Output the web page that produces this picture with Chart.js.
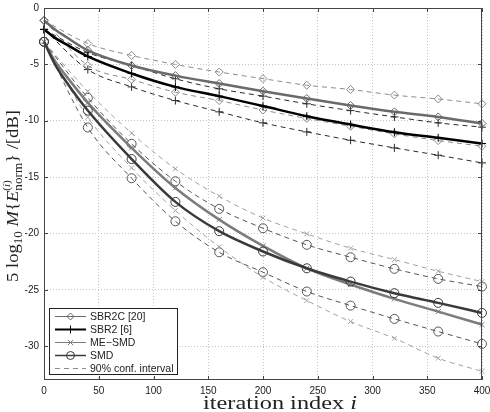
<!DOCTYPE html>
<html>
<head>
<meta charset="utf-8">
<script src="https://cdn.jsdelivr.net/npm/chart.js@4.4.0/dist/chart.umd.min.js"></script>
<style>
  html, body { margin: 0; padding: 0; background: #fff; }
  #wrap { width: 490px; height: 412px; }
</style>
</head>
<body>
<div id="wrap"><canvas id="c" width="490" height="412"></canvas></div>
<script>
/* Convergence curves – mean and 90% confidence bounds per algorithm */

// iterations where markers sit (every 40) and where the mean curves were read
const markIters = [0, 40, 80, 120, 160, 200, 240, 280, 320, 360, 400];
const meanIters = [0, 10, 20, 40, 80, 120, 160, 200, 240, 280, 320, 360, 400];

const xTicks = [0, 50, 100, 150, 200, 250, 300, 350, 400];
const yTicks = [0, -5, -10, -15, -20, -25, -30];

const seriesNames = ['SBR2C [20]', 'SBR2 [6]', 'ME\u2212SMD', 'SMD'];
const confName = '90% conf. interval';

// SBR2C [20]
const sbr2cMean  = [-1.1, -1.9, -2.55, -3.75, -5.1, -6.0, -6.7, -7.38, -8.03, -8.65, -9.21, -9.66, -10.25];
const sbr2cUpper = [-1.1, -3.15, -4.21, -5.01, -5.68, -6.27, -6.85, -7.23, -7.73, -8.07, -8.5];
const sbr2cLower = [-1.1, -5.1, -6.34, -7.47, -8.21, -9.05, -9.8, -10.49, -11.17, -11.76, -12.26];
// SBR2 [6]
const sbr2Mean  = [-1.9, -2.65, -3.2, -4.3, -5.81, -7.0, -7.82, -8.7, -9.6, -10.34, -11.02, -11.52, -12.02];
const sbr2Upper = [-1.9, -3.95, -5.1, -6.28, -7.17, -7.82, -8.5, -9.1, -9.66, -10.19, -10.57];
const sbr2Lower = [-1.9, -5.46, -7.0, -8.21, -9.21, -10.19, -10.99, -11.73, -12.41, -13.06, -13.74];
// ME-SMD
const meSmdMean  = [-3, -4.7, -6.0, -8.4, -12.4, -15.96, -18.77, -21.1, -23.09, -24.53, -25.8, -26.93, -28.08];
const meSmdUpper = [-3, -7.4, -11.1, -14.27, -16.7, -18.63, -20.04, -21.31, -22.32, -23.35, -24.27];
const meSmdLower = [-3, -9.7, -14.18, -17.97, -21.19, -23.88, -25.95, -27.82, -29.3, -31.07, -32.23];
// SMD
const smdMean  = [-3, -5.0, -6.5, -9.1, -13.4, -17.2, -19.8, -21.6, -23.09, -24.27, -25.3, -26.16, -27.05];
const smdUpper = [-3, -7.97, -12.05, -15.37, -17.82, -19.54, -21.01, -22.11, -23.14, -24.03, -24.71];
const smdLower = [-3, -10.6, -15.1, -18.92, -21.67, -23.44, -25.15, -26.4, -27.58, -28.7, -29.8];

// styles
const C_SBR2C = '#6a6a6a', C_SBR2 = '#000000', C_ME = '#7c7c7c', C_SMD = '#3a3a3a';
const D_SBR2C = '#8c8c8c', D_SBR2 = '#2a2a2a', D_ME = '#a2a2a2', D_SMD = '#555555';
const DASH = [5, 4];

const pts = (xs, ys) => xs.map((x, i) => ({ x, y: ys[i] }));

function mk(label, xs, ys, style, color, width, dash, radius) {
  return {
    label,
    data: pts(xs, ys),
    borderColor: color,
    borderWidth: width,
    borderDash: dash,
    pointStyle: style,
    pointBorderColor: color,
    pointBackgroundColor: 'rgba(0,0,0,0)',
    pointBorderWidth: 1,
    pointRadius: c => (c.raw && c.raw.x % 40 === 0 ? radius : 0),
    pointHoverRadius: 0,
    cubicInterpolationMode: 'monotone',
    fill: false,
    clip: false
  };
}

const datasets = [
  // means first so they sit on top
  mk(seriesNames[1], meanIters, sbr2Mean, 'cross', C_SBR2, 2.5, [], 4),
  mk(seriesNames[0], meanIters, sbr2cMean, 'rectRot', C_SBR2C, 2.5, [], 4),
  mk(seriesNames[3], meanIters, smdMean, 'circle', C_SMD, 2.5, [], 4.5),
  mk(seriesNames[2], meanIters, meSmdMean, 'crossRot', C_ME, 2.5, [], 3.5),
  // confidence bounds
  mk(confName, markIters, sbr2cUpper, 'rectRot', D_SBR2C, 1, DASH, 4),
  mk(confName, markIters, sbr2cLower, 'rectRot', D_SBR2C, 1, DASH, 4),
  mk(confName, markIters, sbr2Upper, 'cross', D_SBR2, 1, DASH, 4),
  mk(confName, markIters, sbr2Lower, 'cross', D_SBR2, 1, DASH, 4),
  mk(confName, markIters, meSmdUpper, 'crossRot', D_ME, 1, DASH, 3.5),
  mk(confName, markIters, meSmdLower, 'crossRot', D_ME, 1, DASH, 3.5),
  mk(confName, markIters, smdUpper, 'circle', D_SMD, 1, DASH, 4.5),
  mk(confName, markIters, smdLower, 'circle', D_SMD, 1, DASH, 4.5)
];

// helper: small hollow marker for the legend
function marker(ctx, style, x, y, r) {
  ctx.beginPath();
  if (style === 'circle') {
    ctx.arc(x, y, r, 0, Math.PI * 2);
  } else if (style === 'rectRot') {
    ctx.moveTo(x, y - r); ctx.lineTo(x + r, y); ctx.lineTo(x, y + r); ctx.lineTo(x - r, y); ctx.closePath();
  } else if (style === 'cross') {
    ctx.moveTo(x - r, y); ctx.lineTo(x + r, y); ctx.moveTo(x, y - r); ctx.lineTo(x, y + r);
  } else if (style === 'crossRot') {
    const d = r * 0.75;
    ctx.moveTo(x - d, y - d); ctx.lineTo(x + d, y + d); ctx.moveTo(x + d, y - d); ctx.lineTo(x - d, y + d);
  }
  ctx.stroke();
}

// helper: draw a row of text runs (sub/superscripts), centred at 0 and
// stretched along the baseline to the given width (TeX fonts run wide)
function drawRuns(ctx, runs, target) {
  const fam = '"Liberation Serif", "Times New Roman", serif';
  const pass = (draw, off) => {
    let x = 0, mark = 0, maxX = 0;
    for (const r of runs) {
      if (r.mark) { mark = x; continue; }
      if (r.back) { maxX = x; x = mark; continue; }
      if (r.end) { x = Math.max(x, maxX); continue; }
      ctx.font = (r.it ? 'italic ' : '') + r.s + 'px ' + fam;
      if (draw) ctx.fillText(r.t, x + off, r.dy || 0);
      x += ctx.measureText(r.t).width;
    }
    return x;
  };
  const w = pass(false, 0);
  ctx.scale(target / w, 1);
  pass(true, -w / 2);
}

const TS = 17;
const yTitle = [
  { t: '5 log', s: TS }, { t: '10', s: 12, dy: 4 }, { t: ' ', s: TS },
  { t: 'M', s: TS, it: true }, { t: '{', s: TS }, { t: 'E', s: TS, it: true },
  { mark: true },
  { t: '(', s: 10, dy: -8 }, { t: 'i', s: 10, dy: -8, it: true }, { t: ')', s: 10, dy: -8 },
  { back: true },
  { t: 'norm', s: 12, dy: 4 },
  { end: true },
  { t: '}', s: TS }, { t: ' /[dB]', s: TS }
];
const xTitle = [{ t: 'iteration index ', s: 18 }, { t: 'i', s: 18, it: true }];

const decorPlugin = {
  id: 'decor',
  afterDatasetsDraw(chart) {
    const { ctx, chartArea: a, scales: { x, y } } = chart;
    ctx.save();
    ctx.strokeStyle = '#444';
    ctx.lineWidth = 1;
    ctx.strokeRect(a.left + 0.5, a.top + 0.5, a.right - a.left - 1, a.bottom - a.top - 1);
    ctx.beginPath();
    xTicks.forEach(v => {
      const px = Math.round(x.getPixelForValue(v)) + 0.5;
      ctx.moveTo(px, a.bottom); ctx.lineTo(px, a.bottom - 4);
      ctx.moveTo(px, a.top); ctx.lineTo(px, a.top + 4);
    });
    yTicks.forEach(v => {
      const py = Math.round(y.getPixelForValue(v)) + 0.5;
      ctx.moveTo(a.left, py); ctx.lineTo(a.left + 4, py);
      ctx.moveTo(a.right, py); ctx.lineTo(a.right - 4, py);
    });
    ctx.stroke();
    ctx.restore();
  },
  afterDraw(chart) {
    const { ctx, chartArea: a } = chart;

    // legend box, bottom left inside the axes
    const bx = a.left + 5, by = a.bottom - 72, bw = 128, bh = 66;
    ctx.save();
    ctx.fillStyle = '#fff';
    ctx.fillRect(bx, by, bw, bh);
    ctx.strokeStyle = '#222';
    ctx.lineWidth = 1;
    ctx.strokeRect(bx + 0.5, by + 0.5, bw, bh);
    const rows = [
      { label: seriesNames[0], color: C_SBR2C, w: 1, style: 'rectRot', r: 3.5, dash: [] },
      { label: seriesNames[1], color: C_SBR2, w: 2, style: 'cross', r: 4, dash: [] },
      { label: seriesNames[2], color: C_ME, w: 1, style: 'crossRot', r: 3.5, dash: [] },
      { label: seriesNames[3], color: C_SMD, w: 1.5, style: 'circle', r: 4, dash: [] },
      { label: confName, color: D_SBR2C, w: 1, style: null, r: 0, dash: DASH }
    ];
    ctx.font = '10.5px "Liberation Sans", Arial, sans-serif';
    ctx.textBaseline = 'middle';
    rows.forEach((row, i) => {
      const ry = by + 8.5 + i * 13;
      ctx.strokeStyle = row.color;
      ctx.lineWidth = row.w;
      ctx.setLineDash(row.dash);
      ctx.beginPath(); ctx.moveTo(bx + 6, ry); ctx.lineTo(bx + 37, ry); ctx.stroke();
      ctx.setLineDash([]);
      ctx.lineWidth = 1;
      if (row.style) marker(ctx, row.style, bx + 21.5, ry, row.r);
      ctx.fillStyle = '#222';
      ctx.fillText(row.label, bx + 41, ry + 0.5);
    });
    ctx.restore();

    // axis titles
    ctx.save();
    ctx.fillStyle = '#222';
    ctx.textBaseline = 'alphabetic';
    ctx.translate(280, 409);
    drawRuns(ctx, xTitle, 154);
    ctx.restore();

    ctx.save();
    ctx.fillStyle = '#222';
    ctx.textBaseline = 'alphabetic';
    ctx.translate(18, 196);
    ctx.rotate(-Math.PI / 2);
    drawRuns(ctx, yTitle, 172);
    ctx.restore();
  }
};

const tickFont = { family: '"Liberation Sans", Arial, sans-serif', size: 10 };

new Chart(document.getElementById('c'), {
  type: 'line',
  data: { datasets },
  options: {
    responsive: false,
    animation: false,
    events: [],
    layout: { padding: { left: 0, right: 8, top: 8, bottom: 0 } },
    plugins: { legend: { display: false }, tooltip: { enabled: false } },
    scales: {
      x: {
        type: 'linear', min: 0, max: 400,
        afterBuildTicks: s => { s.ticks = xTicks.map(v => ({ value: v })); },
        afterFit: s => { s.height = 32; s.paddingLeft = 0; s.paddingRight = 0; },
        grid: { color: '#c4c4c4', lineWidth: 1, drawTicks: false },
        border: { display: false, dash: [1, 2] },
        ticks: { font: tickFont, color: '#222', padding: 5, maxRotation: 0, callback: v => String(v) }
      },
      y: {
        type: 'linear', min: -33, max: 0,
        afterBuildTicks: s => { s.ticks = yTicks.map(v => ({ value: v })); },
        afterFit: s => { s.width = 44; s.paddingTop = 0; s.paddingBottom = 0; },
        grid: { color: '#c4c4c4', lineWidth: 1, drawTicks: false },
        border: { display: false, dash: [1, 2] },
        ticks: { font: tickFont, color: '#222', padding: 5, callback: v => String(v) }
      }
    }
  },
  plugins: [decorPlugin]
});
</script>
</body>
</html>
